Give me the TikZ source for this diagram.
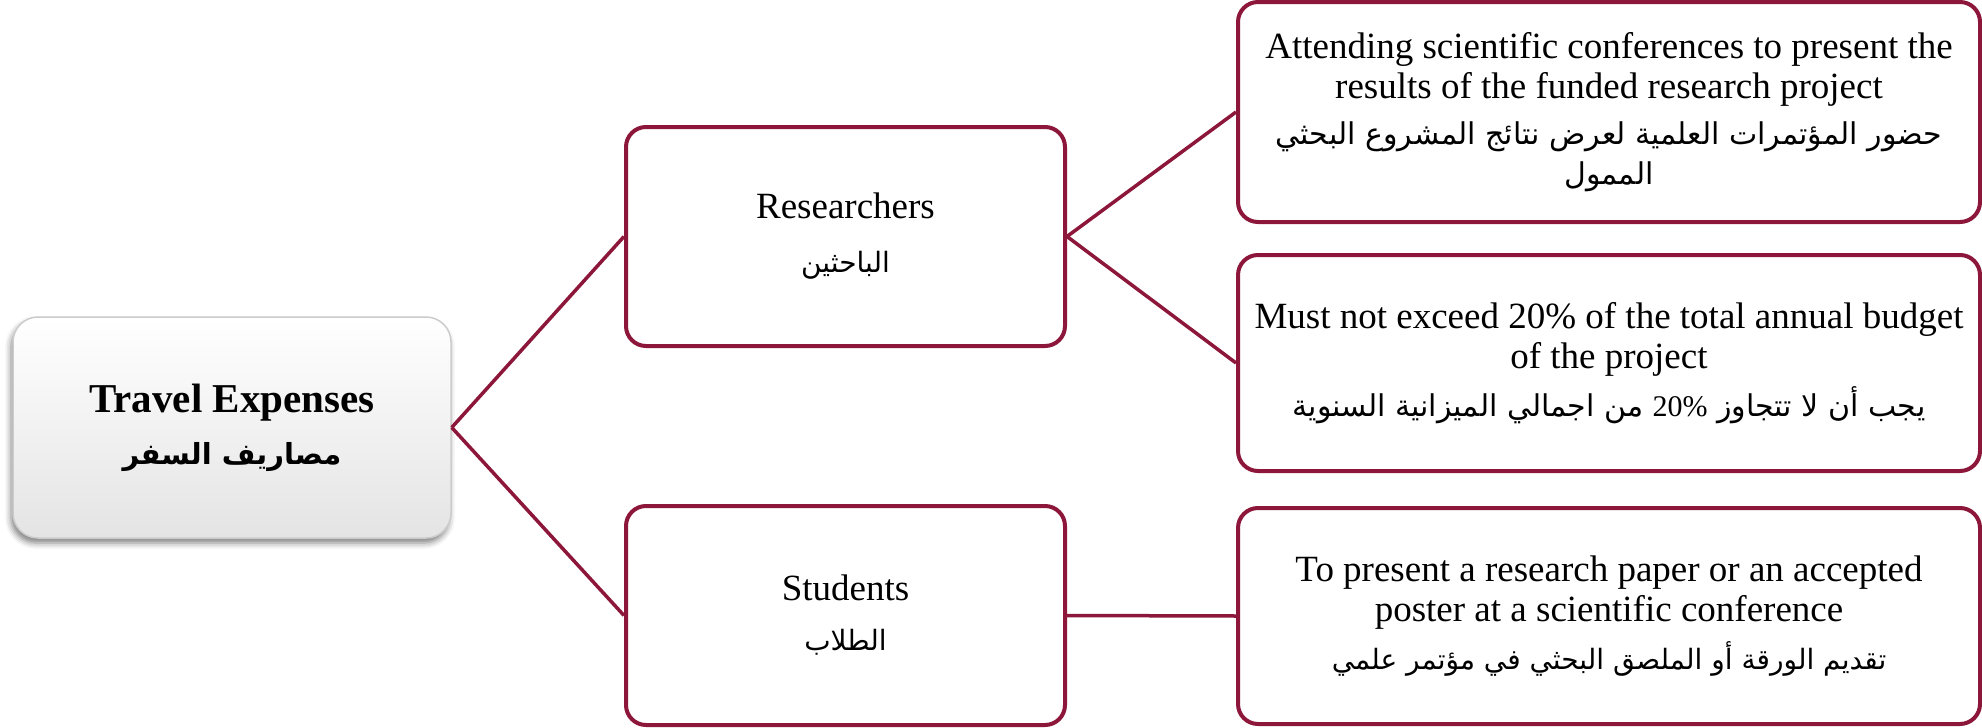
\documentclass[tikz,border=0pt]{standalone}
\usepackage{fontspec}
\setmainfont{Liberation Serif}
\newfontfamily\arabicfont[Script=Arabic]{DejaVu Sans}
\TeXXeTstate=1
\usetikzlibrary{shadows.blur}
\definecolor{maroon}{RGB}{140,23,58}
\definecolor{lgray}{RGB}{228,228,228}
\newcommand\arline[2][28]{{\arabicfont\fontsize{#1}{38}\selectfont\beginR #2\endR}}
\newcommand\arlinebf[1]{{\arabicfont\bfseries\fontsize{29}{40}\selectfont\beginR #1\endR}}
\begin{document}
\begin{tikzpicture}[x=1pt,y=-1pt,
  box/.style={draw=maroon, line width=4pt, rounded corners=20pt, fill=white,
    align=center, inner sep=0pt, font=\fontsize{37}{40}\selectfont},
  rootbox/.style={draw=gray!40, line width=1.5pt, rounded corners=25pt,
    top color=white, bottom color=lgray, align=center, inner sep=0pt,
    blur shadow={shadow xshift=-2pt, shadow yshift=-5pt, shadow blur radius=6pt, shadow opacity=50},
    font=\fontsize{41}{46}\selectfont},
  conn/.style={draw=maroon, line width=3.5pt}]
\useasboundingbox (0,0) rectangle (1982,728);
\node[rootbox, minimum width=438pt, minimum height=221pt] (L) at (232,427.5)
  {\textbf{Travel Expenses}\\[6pt] \arlinebf{مصاريف السفر}};
\node[box, minimum width=439pt, minimum height=219pt] (R) at (845.5,236.5)
  {Researchers\\[14pt] \arline{الباحثين}};
\node[box, minimum width=439pt, minimum height=219pt] (S) at (845.5,615.5)
  {Students\\[10pt] \arline{الطلاب}};
\node[box, minimum width=742pt, minimum height=220pt] (B1) at (1609,112)
  {Attending scientific conferences to present the\\ results of the funded research project\\[6pt]
   \arline[30]{حضور المؤتمرات العلمية لعرض نتائج المشروع البحثي}\\ \arline[30]{الممول}};
\node[box, minimum width=742pt, minimum height=216pt] (B2) at (1609,363)
  {Must not exceed 20\% of the total annual budget\\ of the project\\[8pt]
   \arline[30]{يجب أن لا تتجاوز \beginL{\rmfamily 20\%}\endL{} من اجمالي الميزانية السنوية}};
\node[box, minimum width=742pt, minimum height=216pt] (B3) at (1609,616)
  {To present a research paper or an accepted\\ poster at a scientific conference\\[8pt]
   \arline{تقديم الورقة أو الملصق البحثي في مؤتمر علمي}};
\draw[conn] (L.east) -- (R.west);
\draw[conn] (L.east) -- (S.west);
\draw[conn] (R.east) -- (B1.west);
\draw[conn] (R.east) -- (B2.west);
\draw[conn] (S.east) -- (B3.west);
\end{tikzpicture}
\end{document}
